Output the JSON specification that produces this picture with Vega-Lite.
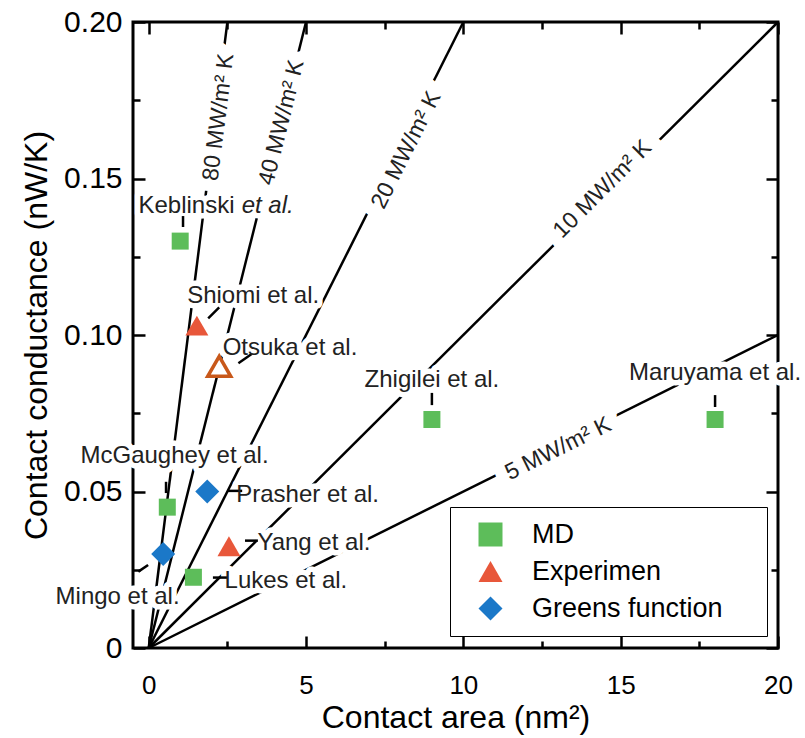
{
  "$schema": "https://vega.github.io/schema/vega-lite/v6.json",
  "width": 645,
  "height": 626,
  "autosize": {"type": "none"},
  "padding": {"left": 133, "top": 22, "right": 27, "bottom": 90},
  "background": "white",
  "config": {
    "view": {"stroke": "black", "strokeWidth": 3},
    "font": "Liberation Sans",
    "axis": {
      "grid": false,
      "domain": false,
      "tickColor": "black",
      "tickWidth": 2.5,
      "labelColor": "black",
      "titleColor": "black",
      "labelFont": "Liberation Sans",
      "titleFont": "Liberation Sans",
      "titleFontWeight": "normal"
    },
    "text": {"font": "Liberation Sans"}
  },
  "datasets": {
    "refLines": [
      {"G": 80, "x": 0, "y": 0}, {"G": 80, "x": 2.5, "y": 0.2},
      {"G": 40, "x": 0, "y": 0}, {"G": 40, "x": 5, "y": 0.2},
      {"G": 20, "x": 0, "y": 0}, {"G": 20, "x": 10, "y": 0.2},
      {"G": 10, "x": 0, "y": 0}, {"G": 10, "x": 20, "y": 0.2},
      {"G": 5, "x": 0, "y": 0}, {"G": 5, "x": 20, "y": 0.1}
    ],
    "lineLabels": [
      {"G": 80, "text": "80 MW/m² K", "x": 2.22, "y": 0.1696},
      {"G": 40, "text": "40 MW/m² K", "x": 4.22, "y": 0.1679},
      {"G": 20, "text": "20 MW/m² K", "x": 8.18, "y": 0.1591},
      {"G": 10, "text": "10 MW/m² K", "x": 14.42, "y": 0.1466},
      {"G": 5, "text": "5 MW/m² K", "x": 13.01, "y": 0.0637}
    ],
    "points": [
      {"name": "Keblinski", "type": "MD", "x": 1.0, "y": 0.130},
      {"name": "Shiomi", "type": "Experimen", "x": 1.53, "y": 0.103},
      {"name": "Otsuka", "type": "Experimen", "x": 2.24, "y": 0.090},
      {"name": "Zhigilei", "type": "MD", "x": 9.0, "y": 0.073},
      {"name": "Maruyama", "type": "MD", "x": 18.0, "y": 0.073},
      {"name": "McGaughey", "type": "MD", "x": 0.59, "y": 0.045},
      {"name": "Prasher", "type": "Greens function", "x": 1.86, "y": 0.050},
      {"name": "Yang", "type": "Experimen", "x": 2.55, "y": 0.0325},
      {"name": "Mingo", "type": "Greens function", "x": 0.46, "y": 0.030},
      {"name": "Lukes", "type": "MD", "x": 1.42, "y": 0.0226}
    ],
    "pointLabels": [
      {"text": "Keblinski", "x": 1.2, "y": 0.1411},
      {"text": "Shiomi et al.", "x": 3.32, "y": 0.1124},
      {"text": "Otsuka et al.", "x": 4.49, "y": 0.0960},
      {"text": "Zhigilei et al.", "x": 9.0, "y": 0.0856},
      {"text": "Maruyama et al.", "x": 18.0, "y": 0.0877},
      {"text": "McGaughey et al.", "x": 0.82, "y": 0.0612},
      {"text": "Prasher et al.", "x": 5.05, "y": 0.0489},
      {"text": "Yang et al.", "x": 5.25, "y": 0.0337},
      {"text": "Lukes et al.", "x": 4.36, "y": 0.0213},
      {"text": "Mingo et al.", "x": -0.99, "y": 0.0162}
    ],
    "italicLabels": [
      {"text": "et al.", "x": 3.78, "y": 0.1411}
    ],
    "leaders": [
      {"x": 1.09, "y": 0.1345, "x2": 1.09, "y2": 0.138},
      {"x": 1.89, "y": 0.1053, "x2": 2.24, "y2": 0.1088},
      {"x": 2.85, "y": 0.0910, "x2": 3.27, "y2": 0.0939},
      {"x": 9.0, "y": 0.0776, "x2": 9.0, "y2": 0.0815},
      {"x": 18.0, "y": 0.077, "x2": 18.0, "y2": 0.0808},
      {"x": 0.55, "y": 0.0495, "x2": 0.55, "y2": 0.0531},
      {"x": 2.52, "y": 0.0502, "x2": 2.97, "y2": 0.0502},
      {"x": 3.06, "y": 0.0343, "x2": 3.47, "y2": 0.0343},
      {"x": -0.33, "y": 0.0244, "x2": -0.02, "y2": 0.0265},
      {"x": 2.04, "y": 0.0225, "x2": 2.49, "y2": 0.0225}
    ]
  },
  "resolve": {"axis": {"x": "independent", "y": "independent"}},
  "layer": [
    {
      "data": {"name": "refLines"},
      "mark": {"type": "line", "color": "black", "strokeWidth": 2.5},
      "encoding": {
        "detail": {"field": "G", "type": "nominal"},
        "x": {
          "field": "x", "type": "quantitative",
          "scale": {"domain": [-0.5, 20], "nice": false, "zero": false},
          "axis": {
            "orient": "bottom", "values": [0, 5, 10, 15, 20], "ticks": false,
            "labelFontSize": 26, "labelPadding": 24, "labelFlush": false,
            "title": "Contact area (nm²)", "titleFontSize": 32, "titlePadding": 4
          }
        },
        "y": {
          "field": "y", "type": "quantitative",
          "scale": {"domain": [0, 0.2], "nice": false, "zero": false},
          "axis": {
            "orient": "left", "values": [0, 0.05, 0.1, 0.15, 0.2], "ticks": false,
            "labelFontSize": 30, "labelPadding": 11, "labelFlush": false,
            "labelExpr": "datum.value == 0 ? '0' : format(datum.value, '.2f')",
            "title": "Contact conductance (nW/K)", "titleFontSize": 32, "titlePadding": 10
          }
        }
      }
    },
    {
      "data": {"name": "pointLabels"},
      "mark": {"type": "text", "fontSize": 24, "align": "center", "baseline": "middle", "fill": "white", "stroke": "white", "strokeWidth": 11, "strokeJoin": "round"},
      "encoding": {
        "text": {"field": "text"},
        "x": {"field": "x", "type": "quantitative", "axis": {"orient": "bottom", "values": [0, 5, 10, 15, 20], "labels": false, "tickSize": -12, "title": null}},
        "y": {"field": "y", "type": "quantitative", "axis": {"orient": "left", "values": [0, 0.05, 0.1, 0.15, 0.2], "labels": false, "tickSize": -12, "title": null}}
      }
    },
    {
      "data": {"name": "italicLabels"},
      "mark": {"type": "text", "fontSize": 24, "fontStyle": "italic", "align": "center", "baseline": "middle", "fill": "white", "stroke": "white", "strokeWidth": 11, "strokeJoin": "round"},
      "encoding": {
        "text": {"field": "text"},
        "x": {"field": "x", "type": "quantitative", "axis": {"orient": "bottom", "values": [2.5, 7.5, 12.5, 17.5], "labels": false, "tickSize": -7, "title": null}},
        "y": {"field": "y", "type": "quantitative", "axis": {"orient": "left", "values": [0.025, 0.075, 0.125, 0.175], "labels": false, "tickSize": -7, "title": null}}
      }
    },
    {
      "data": {"name": "lineLabels"},
      "mark": {"type": "text", "fontSize": 23, "align": "center", "baseline": "middle", "fill": "white", "stroke": "white", "strokeWidth": 24, "strokeJoin": "round"},
      "encoding": {
        "text": {"field": "text"},
        "angle": {"field": "G", "type": "quantitative", "scale": {"domain": [5, 10, 20, 40, 80], "range": [333.6, 315.1, 296.7, 284.1, 277.2]}},
        "x": {"field": "x", "type": "quantitative", "axis": {"orient": "top", "values": [0, 5, 10, 15, 20], "labels": false, "tickSize": -12, "title": null}},
        "y": {"field": "y", "type": "quantitative", "axis": {"orient": "right", "values": [0, 0.05, 0.1, 0.15, 0.2], "labels": false, "tickSize": -12, "title": null}}
      }
    },
    {
      "data": {"name": "leaders"},
      "mark": {"type": "rule", "color": "black", "strokeWidth": 2.5},
      "encoding": {
        "x": {"field": "x", "type": "quantitative", "axis": {"orient": "top", "values": [2.5, 7.5, 12.5, 17.5], "labels": false, "tickSize": -7, "title": null}},
        "y": {"field": "y", "type": "quantitative", "axis": {"orient": "right", "values": [0.025, 0.075, 0.125, 0.175], "labels": false, "tickSize": -7, "title": null}},
        "x2": {"field": "x2"},
        "y2": {"field": "y2"}
      }
    },
    {
      "data": {"name": "points"},
      "transform": [{"filter": "datum.name != 'Otsuka'"}],
      "mark": {"type": "point", "filled": true, "opacity": 1, "strokeWidth": 0},
      "encoding": {
        "x": {"field": "x", "type": "quantitative", "axis": null},
        "y": {"field": "y", "type": "quantitative", "axis": null},
        "size": {
          "condition": [
            {"test": "datum.type === 'MD'", "value": 289},
            {"test": "datum.type === 'Greens function'", "value": 576}
          ],
          "value": 529
        },
        "color": {
          "field": "type", "type": "nominal",
          "scale": {"domain": ["MD", "Experimen", "Greens function"], "range": ["#5DBD5A", "#E8573A", "#1B78C8"]},
          "legend": {
            "title": null,
            "orient": "none",
            "legendX": 317,
            "legendY": 485,
            "direction": "vertical",
            "padding": 14,
            "strokeColor": "black",
            "fillColor": "white",
            "symbolOffset": 13,
            "symbolSize": 576,
            "labelOffset": 28,
            "labelFontSize": 27,
            "labelFont": "Liberation Sans",
            "labelColor": "black",
            "labelLimit": 400,
            "rowPadding": 9,
            "labelExpr": "datum.label == 'Greens function' ? datum.label + '\u00a0\u00a0\u00a0\u00a0\u200b' : datum.label",
            "encode": {
              "legend": {"update": {"strokeWidth": {"value": 2}}},
              "symbols": {"update": {
                "size": {"signal": "datum.value === 'MD' ? 289 : datum.value === 'Greens function' ? 576 : 529"},
                "strokeWidth": {"value": 0}
              }}
            }
          }
        },
        "shape": {
          "field": "type", "type": "nominal",
          "scale": {"domain": ["MD", "Experimen", "Greens function"], "range": ["square", "triangle-up", "diamond"]}
        }
      }
    },
    {
      "data": {"name": "points"},
      "transform": [{"filter": "datum.name == 'Otsuka'"}],
      "mark": {"type": "point", "shape": "triangle-up", "size": 529, "filled": true, "fill": "white", "opacity": 1, "stroke": "#C8581A", "strokeWidth": 3.5},
      "encoding": {
        "x": {"field": "x", "type": "quantitative", "axis": null},
        "y": {"field": "y", "type": "quantitative", "axis": null}
      }
    },
    {
      "data": {"name": "pointLabels"},
      "mark": {"type": "text", "fontSize": 24, "align": "center", "baseline": "middle", "color": "#222222"},
      "encoding": {
        "text": {"field": "text"},
        "x": {"field": "x", "type": "quantitative", "axis": null},
        "y": {"field": "y", "type": "quantitative", "axis": null}
      }
    },
    {
      "data": {"name": "italicLabels"},
      "mark": {"type": "text", "fontSize": 24, "fontStyle": "italic", "align": "center", "baseline": "middle", "color": "#222222"},
      "encoding": {
        "text": {"field": "text"},
        "x": {"field": "x", "type": "quantitative", "axis": null},
        "y": {"field": "y", "type": "quantitative", "axis": null}
      }
    },
    {
      "data": {"name": "lineLabels"},
      "mark": {"type": "text", "fontSize": 23, "align": "center", "baseline": "middle", "color": "#222222"},
      "encoding": {
        "text": {"field": "text"},
        "angle": {"field": "G", "type": "quantitative"},
        "x": {"field": "x", "type": "quantitative", "axis": null},
        "y": {"field": "y", "type": "quantitative", "axis": null}
      }
    }
  ]
}
